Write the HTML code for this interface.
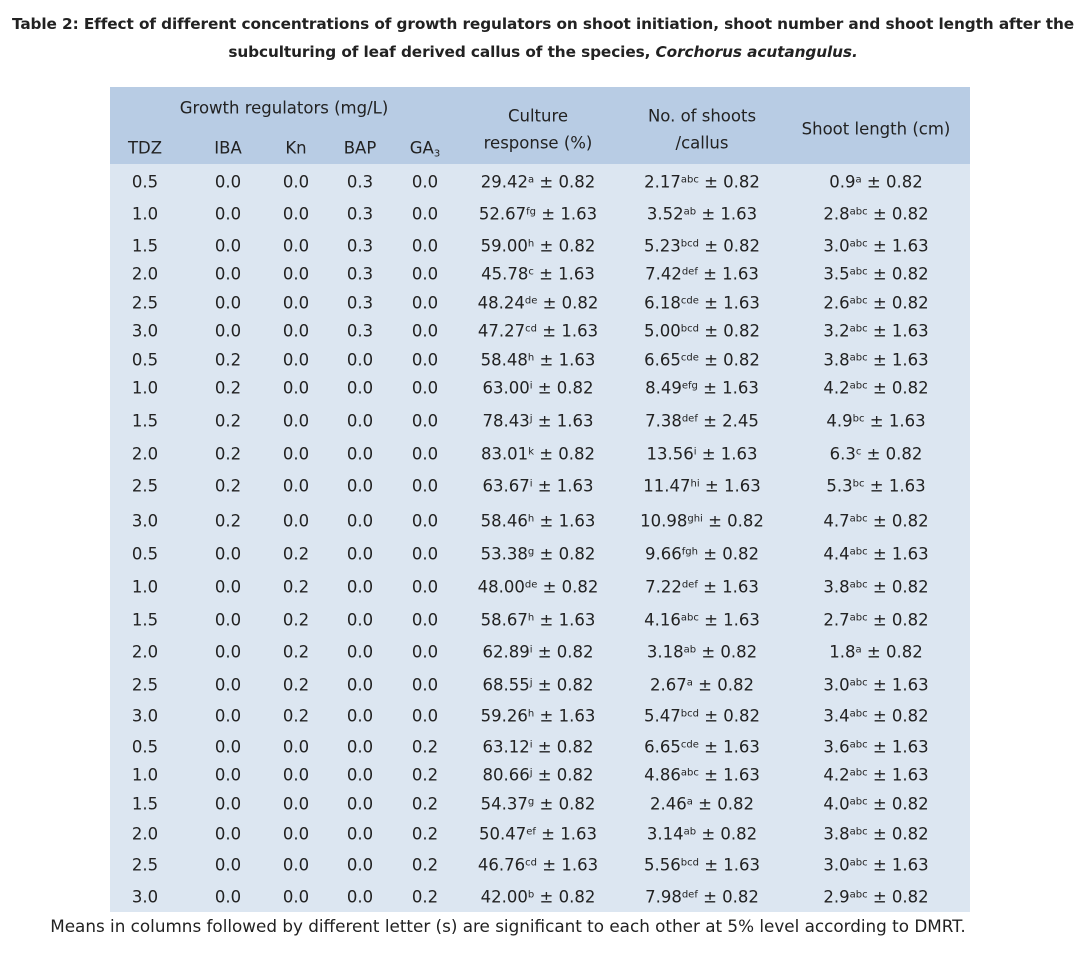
<!DOCTYPE html>
<html><head><meta charset="utf-8"><style>
body{margin:0;width:1086px;height:955px;background:#fff;font-family:"DejaVu Sans","Liberation Sans",sans-serif;color:#222;position:relative;overflow:hidden}
.t{position:absolute;white-space:nowrap;font-size:16.5px;transform:translate(-50%,-50%)}
sup{font-size:10px;vertical-align:5px;line-height:0}
sub{font-size:10px;vertical-align:-3px;line-height:0}
#title{position:absolute;left:0;width:1086px;top:10px;text-align:center;font-weight:bold;font-size:15.3px;line-height:28px;font-family:"DejaVu Sans",sans-serif;letter-spacing:-0.1px}
</style></head><body>
<div id="title">Table 2: Effect of different concentrations of growth regulators on shoot initiation, shoot number and shoot length after the<br>subculturing of leaf derived callus of the species, <i>Corchorus acutangulus.</i></div>
<div style="position:absolute;left:110px;top:87px;width:860px;height:77px;background:#b8cce4"></div>
<div style="position:absolute;left:110px;top:164px;width:860px;height:748px;background:#dce6f1"></div>
<div class="t" style="left:284px;top:108px">Growth regulators (mg/L)</div>
<div class="t" style="left:145px;top:148px">TDZ</div>
<div class="t" style="left:228px;top:148px">IBA</div>
<div class="t" style="left:296px;top:148px">Kn</div>
<div class="t" style="left:360px;top:148px">BAP</div>
<div class="t" style="left:425px;top:148px">GA<sub>3</sub></div>
<div class="t" style="left:538px;top:116px">Culture</div>
<div class="t" style="left:538px;top:143px">response (%)</div>
<div class="t" style="left:702px;top:116px">No. of shoots</div>
<div class="t" style="left:702px;top:143px">/callus</div>
<div class="t" style="left:876px;top:129px">Shoot length (cm)</div>
<div id="rows"></div>
<div class="t" style="left:508px;top:926px;font-size:16.8px">Means in columns followed by different letter (s) are significant to each other at 5% level according to DMRT.</div>
<script>
var ys=[182,214,246,274,303,331,360,388,421,454,486,521,554,587,620,652,685,716,747,775,804,834,865,897];
var d=[
["0.5","0.0","0.0","0.3","0.0","29.42","a","0.82","2.17","abc","0.82","0.9","a","0.82"],
["1.0","0.0","0.0","0.3","0.0","52.67","fg","1.63","3.52","ab","1.63","2.8","abc","0.82"],
["1.5","0.0","0.0","0.3","0.0","59.00","h","0.82","5.23","bcd","0.82","3.0","abc","1.63"],
["2.0","0.0","0.0","0.3","0.0","45.78","c","1.63","7.42","def","1.63","3.5","abc","0.82"],
["2.5","0.0","0.0","0.3","0.0","48.24","de","0.82","6.18","cde","1.63","2.6","abc","0.82"],
["3.0","0.0","0.0","0.3","0.0","47.27","cd","1.63","5.00","bcd","0.82","3.2","abc","1.63"],
["0.5","0.2","0.0","0.0","0.0","58.48","h","1.63","6.65","cde","0.82","3.8","abc","1.63"],
["1.0","0.2","0.0","0.0","0.0","63.00","i","0.82","8.49","efg","1.63","4.2","abc","0.82"],
["1.5","0.2","0.0","0.0","0.0","78.43","j","1.63","7.38","def","2.45","4.9","bc","1.63"],
["2.0","0.2","0.0","0.0","0.0","83.01","k","0.82","13.56","i","1.63","6.3","c","0.82"],
["2.5","0.2","0.0","0.0","0.0","63.67","i","1.63","11.47","hi","1.63","5.3","bc","1.63"],
["3.0","0.2","0.0","0.0","0.0","58.46","h","1.63","10.98","ghi","0.82","4.7","abc","0.82"],
["0.5","0.0","0.2","0.0","0.0","53.38","g","0.82","9.66","fgh","0.82","4.4","abc","1.63"],
["1.0","0.0","0.2","0.0","0.0","48.00","de","0.82","7.22","def","1.63","3.8","abc","0.82"],
["1.5","0.0","0.2","0.0","0.0","58.67","h","1.63","4.16","abc","1.63","2.7","abc","0.82"],
["2.0","0.0","0.2","0.0","0.0","62.89","i","0.82","3.18","ab","0.82","1.8","a","0.82"],
["2.5","0.0","0.2","0.0","0.0","68.55","j","0.82","2.67","a","0.82","3.0","abc","1.63"],
["3.0","0.0","0.2","0.0","0.0","59.26","h","1.63","5.47","bcd","0.82","3.4","abc","0.82"],
["0.5","0.0","0.0","0.0","0.2","63.12","i","0.82","6.65","cde","1.63","3.6","abc","1.63"],
["1.0","0.0","0.0","0.0","0.2","80.66","j","0.82","4.86","abc","1.63","4.2","abc","1.63"],
["1.5","0.0","0.0","0.0","0.2","54.37","g","0.82","2.46","a","0.82","4.0","abc","0.82"],
["2.0","0.0","0.0","0.0","0.2","50.47","ef","1.63","3.14","ab","0.82","3.8","abc","0.82"],
["2.5","0.0","0.0","0.0","0.2","46.76","cd","1.63","5.56","bcd","1.63","3.0","abc","1.63"],
["3.0","0.0","0.0","0.0","0.2","42.00","b","0.82","7.98","def","0.82","2.9","abc","0.82"]];
var xs=[145,228,296,360,425],h="";
d.forEach(function(r,i){var y=ys[i];
for(var j=0;j<5;j++)h+='<div class="t" style="left:'+xs[j]+'px;top:'+y+'px">'+r[j]+'</div>';
h+='<div class="t" style="left:538px;top:'+y+'px">'+r[5]+'<sup>'+r[6]+'</sup> ± '+r[7]+'</div>';
h+='<div class="t" style="left:702px;top:'+y+'px">'+r[8]+'<sup>'+r[9]+'</sup> ± '+r[10]+'</div>';
h+='<div class="t" style="left:876px;top:'+y+'px">'+r[11]+'<sup>'+r[12]+'</sup> ± '+r[13]+'</div>';});
document.getElementById('rows').innerHTML=h;
</script>
</body></html>
